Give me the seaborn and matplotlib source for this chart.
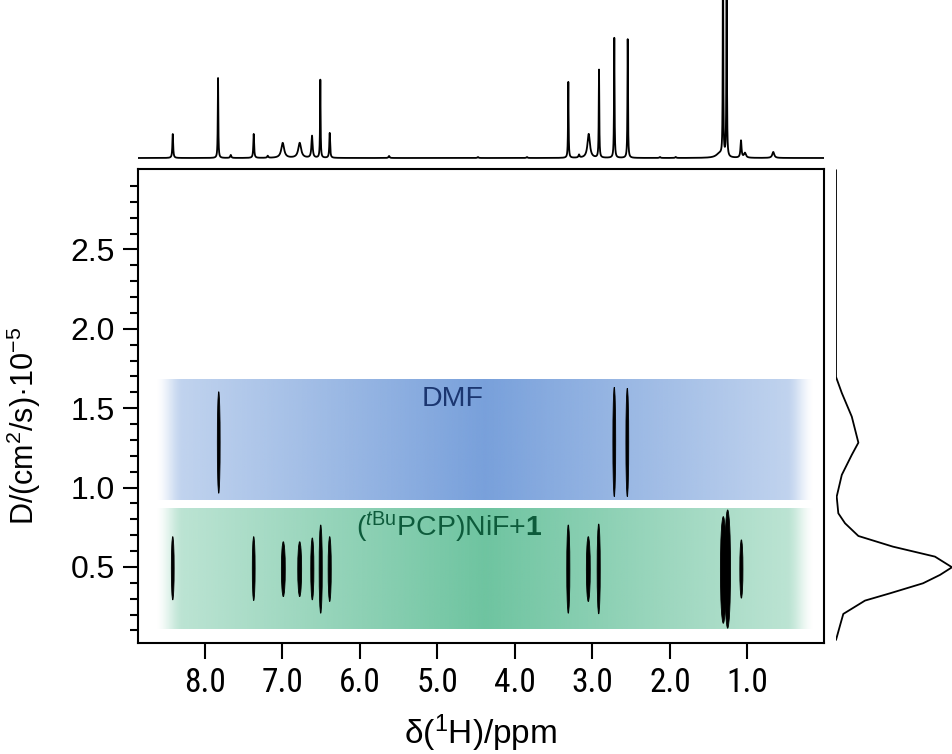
import numpy as np
import pandas as pd
import seaborn as sns
import matplotlib
matplotlib.use("Agg")
import matplotlib.pyplot as plt
from matplotlib.patches import Ellipse
from matplotlib.colors import to_rgb
from matplotlib.ticker import FixedLocator
from matplotlib import font_manager as fm

# ---------------- data ----------------
x_tick_values = [8.0, 7.0, 6.0, 5.0, 4.0, 3.0, 2.0, 1.0]
x_tick_labels = ["8.0", "7.0", "6.0", "5.0", "4.0", "3.0", "2.0", "1.0"]
y_tick_values = [0.5, 1.0, 1.5, 2.0, 2.5]
y_tick_labels = ["0.5", "1.0", "1.5", "2.0", "2.5"]

# 1D 1H spectrum on top: peak positions (ppm), relative heights, half widths (ppm)
spec_ppm = [8.411, 7.827, 7.663, 7.367, 7.186, 6.993, 6.774, 6.615, 6.508, 6.387,
            5.622, 4.475, 3.843, 3.310, 3.172, 3.047, 2.914, 2.717, 2.544,
            2.128, 1.925, 1.36, 1.315, 1.268, 1.083, 1.032, 0.667]
spec_height = [0.20, 0.667, 0.025, 0.20, 0.017, 0.125, 0.125, 0.183, 0.65, 0.208,
               0.017, 0.008, 0.008, 0.633, 0.025, 0.20, 0.733, 1.0, 0.99,
               0.008, 0.008, 0.035, 2.5, 2.5, 0.142, 0.04, 0.05]
spec_hwidth = [0.006, 0.004, 0.008, 0.006, 0.008, 0.022, 0.022, 0.009, 0.004, 0.006,
               0.008, 0.008, 0.008, 0.004, 0.008, 0.019, 0.004, 0.004, 0.004,
               0.008, 0.008, 0.05, 0.003, 0.003, 0.008, 0.015, 0.015]

# DOSY projection on the right (D in 1e-5 cm2/s, relative intensity)
proj_d = [3.00, 1.697, 1.596, 1.447, 1.283, 1.206, 1.080, 0.943, 0.838, 0.775,
          0.695, 0.628, 0.565, 0.498, 0.450, 0.397, 0.334, 0.288, 0.204, 0.145, 0.040]
proj_int = [0.0, 0.0, 0.05, 0.136, 0.193, 0.136, 0.05, 0.006, 0.02, 0.078,
            0.193, 0.49, 0.853, 1.0, 0.897, 0.75, 0.466, 0.25, 0.063, 0.04, 0.0]

# 2D cross peaks: DMF
dmf_ppm = [7.818, 2.717, 2.549]
dmf_d_top = [1.604, 1.632, 1.626]
dmf_d_bot = [0.964, 0.943, 0.943]
dmf_w = [0.036, 0.036, 0.036]

# 2D cross peaks: (tBuPCP)NiF + 1
cplx_ppm = [8.411, 7.367, 6.985, 6.774, 6.611, 6.503, 6.387,
            3.310, 3.052, 2.918, 1.311, 1.255, 1.078]
cplx_d_top = [0.691, 0.691, 0.659, 0.659, 0.683, 0.765, 0.691,
              0.765, 0.691, 0.771, 0.817, 0.859, 0.671]
cplx_d_bot = [0.292, 0.288, 0.313, 0.313, 0.292, 0.208, 0.282,
              0.208, 0.282, 0.204, 0.145, 0.114, 0.303]
cplx_w = [0.036, 0.036, 0.05, 0.05, 0.04, 0.04, 0.04,
          0.04, 0.05, 0.04, 0.075, 0.075, 0.04]

# coloured bands
band_labels = ["DMF", r"($^{\mathit{t}\mathrm{Bu}}$PCP)NiF+$\mathbf{1}$"]
band_d_top = [1.678, 0.868]
band_d_bot = [0.922, 0.109]
band_ppm_left = 8.64
band_ppm_right = 0.13
band_colors = ["#78A0DB", "#6EC4A0"]
band_text_colors = ["#1B3670", "#0D5B3B"]
band_text_ppm = [4.797, 4.849]
band_text_d = [1.560, 0.752]

# ---------------- style ----------------
sns.set_style("white")
plt.rcParams["font.family"] = ["Liberation Sans", "DejaVu Sans"]
plt.rcParams["mathtext.fontset"] = "custom"
plt.rcParams["mathtext.rm"] = "Liberation Sans"
plt.rcParams["mathtext.it"] = "Liberation Sans:italic"
plt.rcParams["mathtext.bf"] = "Liberation Sans:bold"
for k in ["text.color", "axes.labelcolor", "xtick.color", "ytick.color", "axes.edgecolor"]:
    plt.rcParams[k] = "black"


def pick_narrow():
    """Find an Arial-Narrow-like font among those installed."""
    fonts = fm.fontManager.ttflist
    for name in ["Liberation Sans Narrow", "Arial Narrow", "Roboto Condensed",
                 "Archivo Narrow"]:
        hits = [f for f in fonts if f.name == name and f.style == "normal"
                and f.weight in (400, "normal", "regular")]
        hits.sort(key=lambda f: (0 if "Regular" in f.fname else 1, f.fname))
        if hits:
            return fm.FontProperties(fname=hits[0].fname)
    return fm.FontProperties(family="Liberation Sans")


narrow_fp = pick_narrow()

W, H = 952, 754
fig = plt.figure(figsize=(W / 100, H / 100), dpi=100)
xl, xr = 137.7, 824.2
yt, yb = 169.3, 642.5
ax = fig.add_axes([xl / W, 1 - yb / H, (xr - xl) / W, (yb - yt) / H])
ax_top = fig.add_axes([xl / W, 1 - 166 / H, (xr - xl) / W, 166 / H])
ax_r = fig.add_axes([836 / W, 1 - yb / H, 116 / W, (yb - yt) / H])

XLIM = (8.863, 0.010)
YLIM = (0.024, 3.005)

# ---------------- bands ----------------
n = 800
xs = np.linspace(0, 1, n)
prof = 0.42 + 0.58 * (1 - np.abs(xs - 0.5) * 2)
fade = np.clip(np.minimum(xs, 1 - xs) / (28 / 660), 0, 1)
fade = fade * fade * (3 - 2 * fade)
for col, top, bot in zip(band_colors, band_d_top, band_d_bot):
    img = np.ones((1, n, 4))
    img[..., :3] = to_rgb(col)
    img[..., 3] = prof * fade
    ax.imshow(img, extent=[band_ppm_left, band_ppm_right, bot, top],
              aspect="auto", interpolation="bilinear", zorder=0)

for lab, tc, px, dy in zip(band_labels, band_text_colors, band_text_ppm, band_text_d):
    ax.text(px, dy, lab, color=tc, fontsize=20.5, ha="center", va="center", zorder=3)

# ---------------- cross peaks ----------------
for p, t, b, w in zip(dmf_ppm + cplx_ppm, dmf_d_top + cplx_d_top,
                      dmf_d_bot + cplx_d_bot, dmf_w + cplx_w):
    ax.add_patch(Ellipse((p, (t + b) / 2), w, t - b, facecolor="black",
                         edgecolor="black", lw=0.6, zorder=4))

ax.set_xlim(*XLIM)
ax.set_ylim(*YLIM)
for s in ax.spines.values():
    s.set_linewidth(1.5)
    s.set_color("black")

ax.set_xticks(x_tick_values, x_tick_labels)
ax.set_yticks(y_tick_values, y_tick_labels)
minor = [v / 10 for v in range(1, 30) if v % 5 != 0]
ax.yaxis.set_minor_locator(FixedLocator(minor))
ax.tick_params(axis="x", which="major", direction="out", length=11.5, width=1.5,
               pad=6.5, labelsize=23, bottom=True, top=False, colors="black")
ax.tick_params(axis="y", which="major", direction="out", length=11, width=1.5,
               pad=5.5, labelsize=23, left=True, right=False, colors="black")
ax.tick_params(axis="y", which="minor", direction="out", length=5.5, width=1.5,
               left=True, right=False, colors="black")
for t in ax.get_xticklabels():
    t.set_fontproperties(narrow_fp)
    t.set_fontsize(24)

ax.set_xlabel(r"δ($^{1}$H)/ppm", fontsize=24)
ax.xaxis.set_label_coords(0.5, -(713 - yb) / (yb - yt))
ax.set_ylabel(r"D/(cm$^{2}$/s)·10$^{-5}$", fontsize=22)
ax.yaxis.set_label_coords((43 - xl) / (xr - xl), (yb - 426) / (yb - yt))

# ---------------- top 1D spectrum ----------------
grid = np.linspace(XLIM[0], XLIM[1], 30000)
p0 = np.array(spec_ppm)[:, None]
h0 = np.array(spec_height)[:, None]
w0 = np.array(spec_hwidth)[:, None]
inten = (h0 * w0 ** 2 / ((grid[None, :] - p0) ** 2 + w0 ** 2)).sum(axis=0)
df_spec = pd.DataFrame({"ppm": grid, "I": inten})
sns.lineplot(data=df_spec, x="ppm", y="I", ax=ax_top, color="black", lw=1.3,
             estimator=None, sort=False)
ax_top.set_xlim(*XLIM)
ax_top.set_ylim(-8 / 120, 158 / 120)
ax_top.axis("off")

# ---------------- right projection ----------------
df_proj = pd.DataFrame({"D": proj_d, "I": proj_int})
sns.lineplot(data=df_proj, x="I", y="D", ax=ax_r, color="black", lw=1.3,
             estimator=None, sort=False, orient="y")
ax_r.set_xlim(0, 1.0)
ax_r.set_ylim(*YLIM)
ax_r.axis("off")

fig.savefig("out.png", dpi=100)
